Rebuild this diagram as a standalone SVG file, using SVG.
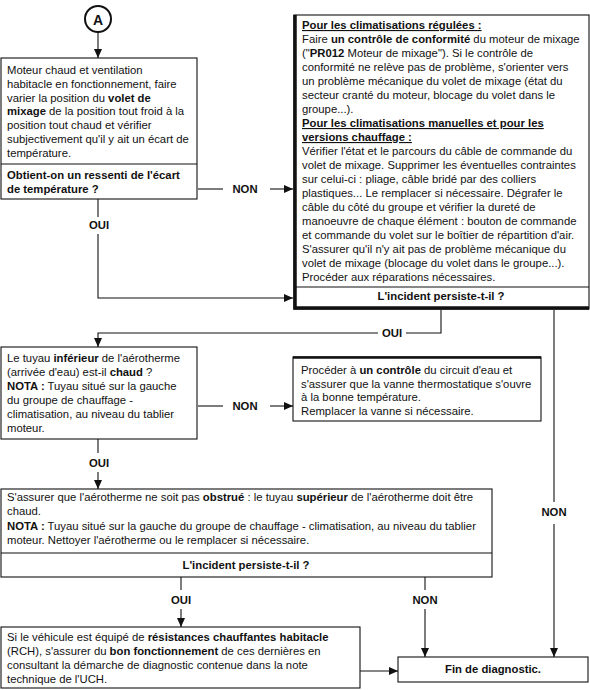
<svg xmlns="http://www.w3.org/2000/svg" width="590" height="690" viewBox="0 0 590 690">
<style>
text{font-family:"Liberation Sans",Arial,sans-serif;font-size:11.3px;fill:#111}
.b{font-weight:bold}
.u{text-decoration:underline;font-weight:bold}
.c{text-anchor:middle}
.box{fill:#fff;stroke:#111;stroke-width:1.1}
.thick{stroke:#111;stroke-width:3.5;fill:none}
.ln{stroke:#111;stroke-width:1.1;fill:none}
</style>
<defs>
<marker id="ar" markerWidth="9" markerHeight="8" refX="9" refY="4" orient="auto" markerUnits="userSpaceOnUse">
<path d="M0,0 L9,4 L0,8 Z" fill="#111"/>
</marker>
</defs>
<rect x="0" y="0" width="590" height="690" fill="#fff"/>

<g id="start">
<circle cx="98" cy="19" r="13" fill="#fff" stroke="#111" stroke-width="2"/>
<text x="98" y="24.5" class="b c" style="font-size:14px">A</text>
</g>

<g id="n1">
<rect class="box" x="1" y="58" width="196" height="141"/>
<line class="ln" x1="1" y1="164" x2="197" y2="164"/>
<text x="7" y="74">Moteur chaud et ventilation</text>
<text x="7" y="88">habitacle en fonctionnement, faire</text>
<text x="7" y="102">varier la position du <tspan class="b">volet de</tspan></text>
<text x="7" y="115"><tspan class="b">mixage</tspan> de la position tout froid à la</text>
<text x="7" y="129">position tout chaud et vérifier</text>
<text x="7" y="143">subjectivement qu'il y ait un écart de</text>
<text x="7" y="157">température.</text>
<text x="7" y="179" class="b">Obtient-on un ressenti de l'écart</text>
<text x="7" y="193" class="b">de température ?</text>
</g>

<g id="n2">
<rect class="box" x="294" y="15" width="295" height="294"/>
<line class="ln" x1="294" y1="287" x2="589" y2="287"/>
<path class="thick" d="M295,15 V308 H589"/>
<text x="302" y="29" class="u">Pour les climatisations régulées :</text>
<text x="302" y="43">Faire <tspan class="b">un contrôle de conformité</tspan> du moteur de mixage</text>
<text x="302" y="57">("<tspan class="b">PR012</tspan> Moteur de mixage"). Si le contrôle de</text>
<text x="302" y="71">conformité ne relève pas de problème, s'orienter vers</text>
<text x="302" y="85">un problème mécanique du volet de mixage (état du</text>
<text x="302" y="99">secteur cranté du moteur, blocage du volet dans le</text>
<text x="302" y="113">groupe...).</text>
<text x="302" y="127" class="u">Pour les climatisations manuelles et pour les</text>
<text x="302" y="141" class="u">versions chauffage :</text>
<text x="302" y="155">Vérifier l'état et le parcours du câble de commande du</text>
<text x="302" y="169">volet de mixage. Supprimer les éventuelles contraintes</text>
<text x="302" y="183">sur celui-ci : pliage, câble bridé par des colliers</text>
<text x="302" y="197">plastiques... Le remplacer si nécessaire. Dégrafer le</text>
<text x="302" y="211">câble du côté du groupe et vérifier la dureté de</text>
<text x="302" y="225">manoeuvre de chaque élément : bouton de commande</text>
<text x="302" y="239">et commande du volet sur le boîtier de répartition d'air.</text>
<text x="302" y="253">S'assurer qu'il n'y ait pas de problème mécanique du</text>
<text x="302" y="267">volet de mixage (blocage du volet dans le groupe...).</text>
<text x="302" y="281">Procéder aux réparations nécessaires.</text>
<text x="441" y="300" class="b c">L'incident persiste-t-il ?</text>
</g>

<g id="n3">
<rect class="box" x="1" y="347" width="196" height="92"/>
<text x="7" y="362">Le tuyau <tspan class="b">inférieur</tspan> de l'aérotherme</text>
<text x="7" y="376">(arrivée d'eau) est-il <tspan class="b">chaud</tspan> ?</text>
<text x="7" y="390"><tspan class="b">NOTA :</tspan> Tuyau situé sur la gauche</text>
<text x="7" y="404">du groupe de chauffage -</text>
<text x="7" y="418">climatisation, au niveau du tablier</text>
<text x="7" y="432">moteur.</text>
</g>

<g id="n4">
<rect class="box" x="293" y="357" width="248" height="64"/>
<line x1="293" y1="357.5" x2="541" y2="357.5" stroke="#111" stroke-width="2.5"/>
<text x="301" y="374">Procéder à <tspan class="b">un contrôle</tspan> du circuit d'eau et</text>
<text x="301" y="388">s'assurer que la vanne thermostatique s'ouvre</text>
<text x="301" y="401">à la bonne température.</text>
<text x="301" y="415">Remplacer la vanne si nécessaire.</text>
</g>

<g id="n5">
<rect class="box" x="1" y="489" width="491" height="88"/>
<line class="ln" x1="1" y1="553" x2="492" y2="553"/>
<text x="7" y="501">S'assurer que l'aérotherme ne soit pas <tspan class="b">obstrué</tspan> : le tuyau <tspan class="b">supérieur</tspan> de l'aérotherme doit être</text>
<text x="7" y="515">chaud.</text>
<text x="7" y="530"><tspan class="b">NOTA :</tspan> Tuyau situé sur la gauche du groupe de chauffage - climatisation, au niveau du tablier</text>
<text x="7" y="544">moteur. Nettoyer l'aérotherme ou le remplacer si nécessaire.</text>
<text x="246" y="569" class="b c">L'incident persiste-t-il ?</text>
</g>

<g id="n6">
<rect class="box" x="1" y="627" width="359" height="61"/>
<text x="7" y="641">Si le véhicule est équipé de <tspan class="b">résistances chauffantes habitacle</tspan></text>
<text x="7" y="655">(RCH), s'assurer du <tspan class="b">bon fonctionnement</tspan> de ces dernières en</text>
<text x="7" y="669">consultant la démarche de diagnostic contenue dans la note</text>
<text x="7" y="683">technique de l'UCH.</text>
</g>

<g id="n7">
<rect class="box" x="398" y="657" width="190" height="25"/>
<text x="493" y="673" class="b c">Fin de diagnostic.</text>
</g>

<g id="connectors">
<line class="ln" x1="98" y1="32" x2="98" y2="58" marker-end="url(#ar)"/>
<line class="ln" x1="198" y1="189" x2="223" y2="189"/>
<text x="245" y="193" class="b c">NON</text>
<line class="ln" x1="270" y1="189" x2="293" y2="189" marker-end="url(#ar)"/>
<line class="ln" x1="98" y1="199" x2="98" y2="217"/>
<text x="99" y="229" class="b c">OUI</text>
<path class="ln" d="M98,234 V298 H293" marker-end="url(#ar)"/>
<path class="ln" d="M441,310 V333 H406"/>
<text x="392" y="337" class="b c">OUI</text>
<path class="ln" d="M378,333 H98 V347" marker-end="url(#ar)"/>
<line class="ln" x1="198" y1="406" x2="223" y2="406"/>
<text x="245" y="410" class="b c">NON</text>
<line class="ln" x1="270" y1="406" x2="293" y2="406" marker-end="url(#ar)"/>
<line class="ln" x1="98" y1="439" x2="98" y2="453"/>
<text x="99" y="467" class="b c">OUI</text>
<line class="ln" x1="98" y1="472" x2="98" y2="489" marker-end="url(#ar)"/>
<line class="ln" x1="554" y1="310" x2="554" y2="502"/>
<text x="554" y="516" class="b c">NON</text>
<line class="ln" x1="554" y1="524" x2="554" y2="657" marker-end="url(#ar)"/>
<line class="ln" x1="181" y1="577" x2="181" y2="590"/>
<text x="181" y="604" class="b c">OUI</text>
<line class="ln" x1="181" y1="609" x2="181" y2="627" marker-end="url(#ar)"/>
<line class="ln" x1="425" y1="577" x2="425" y2="590"/>
<text x="425" y="604" class="b c">NON</text>
<line class="ln" x1="425" y1="609" x2="425" y2="657" marker-end="url(#ar)"/>
<line class="ln" x1="360" y1="671" x2="398" y2="671" marker-end="url(#ar)"/>
</g>
</svg>
